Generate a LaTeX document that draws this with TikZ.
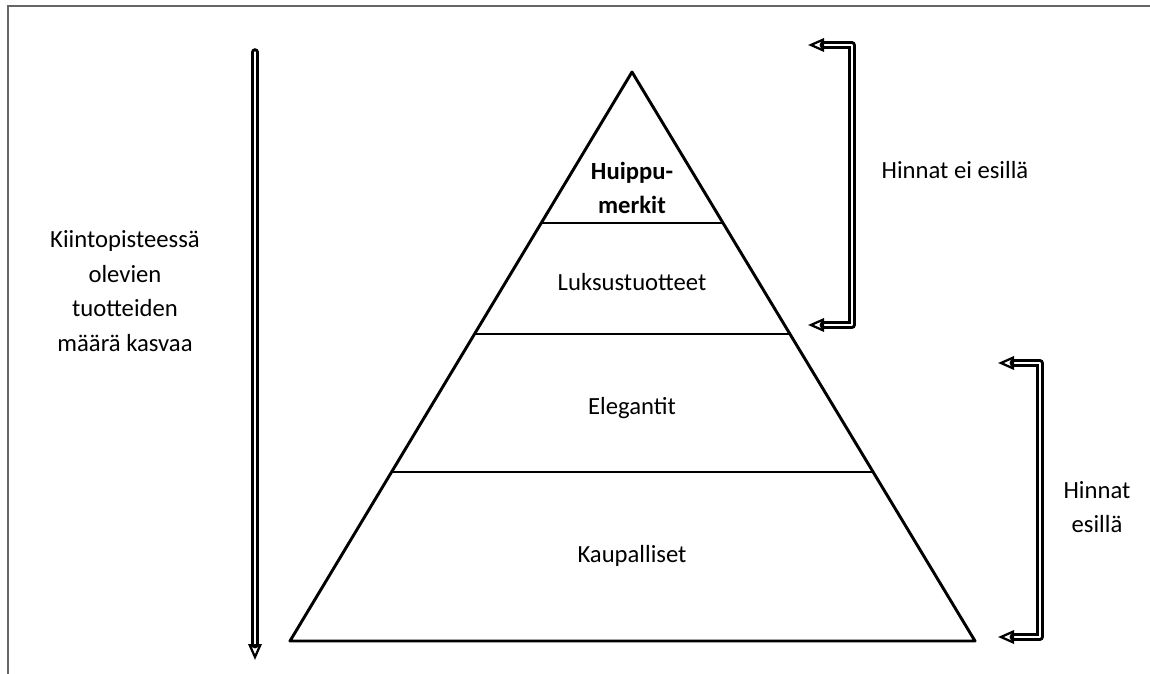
\documentclass[tikz,border=0pt]{standalone}
\usepackage{fontspec}
\setmainfont{Carlito}
\usetikzlibrary{arrows.meta,calc}
\begin{document}
\begin{tikzpicture}[x=0.75pt,y=-0.75pt]
    \tikzstyle{frame}=[draw=black!60, line width=1.5pt]
    \tikzstyle{pyr}=[line width=2.2pt, line join=round]
    \tikzstyle{layer}=[line width=1.6pt]
    \tikzstyle{txt}=[align=center, font=\fontsize{18.5}{26}\selectfont]
    \tikzstyle{hollow}=[double, double distance=0.9pt, line width=2.4pt, line cap=round, line join=round]
    \useasboundingbox (0,0) rectangle (1150,674);
    \draw[frame] (8,674) -- (8,6) -- (1150,6);
      % pyramid
      \coordinate (apex) at (632,72);
      \coordinate (bl) at (290,641);
      \coordinate (br) at (975,641);
      \draw[pyr] (apex) -- (bl) -- (br) -- cycle;
      \foreach \t in {0.266,0.461,0.703} {
        \draw[layer] ($(apex)!\t!(bl)$) -- ($(apex)!\t!(br)$);
      }
      \node[txt, font=\fontsize{18.5}{26}\selectfont\bfseries] (top) at (632,188) {Huippu-\\merkit};
      \node[txt] (lux) at (632,282) {Luksustuotteet};
      \node[txt] (eleg) at (632,408) {Elegantit};
      \node[txt] (kaup) at (632,556) {Kaupalliset};
      % left arrow
      \node[txt] (kiinto) at (125,291) {Kiintopisteessä\\olevien\\tuotteiden\\määrä kasvaa};
      \coordinate (down0) at (255,52);
      \coordinate (down1) at (255,660);
      \draw[hollow, -{Triangle[open, length=12pt, width=10pt, line width=1.7pt]}] (down0) -- (down1);
      % brackets
      \coordinate (a0) at (808,45);
      \coordinate (a1) at (808,325);
      \draw[hollow, {Triangle[open, length=12pt, width=10pt, line width=1.7pt]}-{Triangle[open, length=12pt, width=10pt, line width=1.7pt]}]
        (a0) -- (852,45) -- (852,325) -- (a1);
      \node[txt] (eiesilla) at (955,170) {Hinnat ei esillä};
      \coordinate (b0) at (998,363);
      \coordinate (b1) at (998,637);
      \draw[hollow, {Triangle[open, length=12pt, width=10pt, line width=1.7pt]}-{Triangle[open, length=12pt, width=10pt, line width=1.7pt]}]
        (b0) -- (1040,363) -- (1040,637) -- (b1);
      \node[txt] (esilla) at (1097,507) {Hinnat\\esillä};
\end{tikzpicture}
\end{document}
